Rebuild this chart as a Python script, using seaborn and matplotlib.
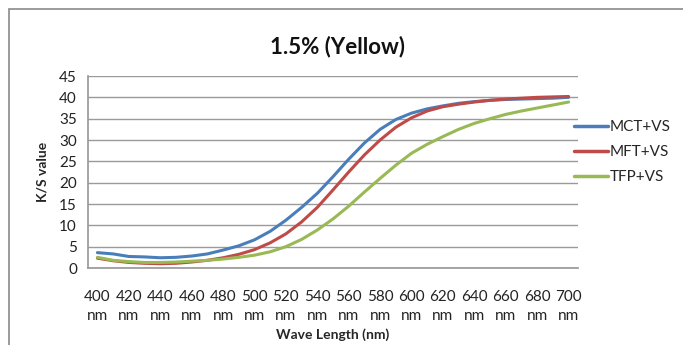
import matplotlib
matplotlib.use("Agg")
import matplotlib.pyplot as plt
import seaborn as sns
import pandas as pd
from matplotlib.patches import Rectangle

wavelength = [400, 410, 420, 430, 440, 450, 460, 470, 480, 490, 500, 510, 520, 530, 540, 550,
              560, 570, 580, 590, 600, 610, 620, 630, 640, 650, 660, 670, 680, 690, 700]
mct_vs = [3.6, 3.3, 2.7, 2.6, 2.4, 2.5, 2.8, 3.3, 4.2, 5.2, 6.6, 8.6, 11.2, 14.2, 17.5, 21.4,
          25.5, 29.3, 32.5, 34.8, 36.3, 37.3, 38.0, 38.6, 39.0, 39.3, 39.5, 39.6, 39.7, 39.8, 40.0]
mft_vs = [2.3, 1.7, 1.3, 1.1, 1.0, 1.1, 1.4, 1.8, 2.4, 3.2, 4.3, 5.9, 8.0, 10.8, 14.2, 18.3,
          22.5, 26.5, 30.0, 33.0, 35.2, 36.8, 37.8, 38.4, 38.9, 39.3, 39.6, 39.8, 40.0, 40.1, 40.2]
tfp_vs = [2.5, 1.8, 1.5, 1.3, 1.3, 1.4, 1.6, 1.8, 2.1, 2.5, 3.0, 3.8, 5.0, 6.7, 8.9, 11.5,
          14.5, 17.8, 21.0, 24.1, 26.9, 29.0, 30.8, 32.5, 33.9, 35.0, 36.0, 36.8, 37.5, 38.2, 38.9]
series_names = ["MCT+VS", "MFT+VS", "TFP+VS"]
tick_values = [400, 420, 440, 460, 480, 500, 520, 540, 560, 580, 600, 620, 640, 660, 680, 700]
tick_labels = [f"{v}\nnm" for v in tick_values]
title = "1.5% (Yellow)"
xlabel = "Wave Length (nm)"
ylabel = "K/S value"

sns.set_theme(style="white")
plt.rcParams['font.family'] = ['Lato', 'DejaVu Sans']

df = pd.DataFrame({"wavelength": wavelength, "MCT+VS": mct_vs, "MFT+VS": mft_vs, "TFP+VS": tfp_vs})
long = df.melt(id_vars="wavelength", var_name="series", value_name="ks")

colors = {"MCT+VS": "#4A7EBB", "MFT+VS": "#BE4B48", "TFP+VS": "#98B954"}

fig = plt.figure(figsize=(6.83, 3.45), dpi=100)
ax = fig.add_axes([88/683, 1-268/345, (578-88)/683, (268-76)/345])

sns.lineplot(data=long, x="wavelength", y="ks", hue="series", hue_order=series_names,
             palette=colors, linewidth=2.2, ax=ax, legend=True)

ax.set_xlim(394, 706)
ax.set_ylim(0, 45)
ax.set_yticks(range(0, 46, 5))
ax.set_xticks(tick_values)
ax.set_xticklabels(tick_labels, fontsize=11, color="#222222", linespacing=1.45)
ax.tick_params(axis="y", labelsize=11, labelcolor="#222222", length=0, pad=8)
ax.tick_params(axis="x", length=0, pad=16)
ax.yaxis.grid(True, color="#9a9a9a", linewidth=1)
ax.xaxis.grid(False)
for s in ["top", "right"]:
    ax.spines[s].set_visible(False)
ax.spines["left"].set_color("#9a9a9a")
ax.spines["bottom"].set_color("#9a9a9a")
ax.set_axisbelow(True)

ax.set_xlabel(xlabel, fontsize=10, fontweight="bold", labelpad=4)
ax.set_ylabel(ylabel, fontsize=10, fontweight="bold", labelpad=8)
fig.text(338/683, 1-47/345, title, ha="center", va="center", fontsize=16, fontweight="bold", color="#111111")

leg = ax.legend(loc="center left", bbox_to_anchor=(0.992, 0.604), frameon=False, fontsize=11,
                handlelength=2.2, handletextpad=0.15, labelspacing=0.72, borderaxespad=0,
                borderpad=0)
for line in leg.get_lines():
    line.set_linewidth(2.5)

fig.patches.append(Rectangle((9/683, -0.05), 1.05, 1-9/345+0.05, transform=fig.transFigure,
                             fill=False, edgecolor="#8a8a8a", linewidth=1.2))

fig.savefig("out.png", dpi=100)
